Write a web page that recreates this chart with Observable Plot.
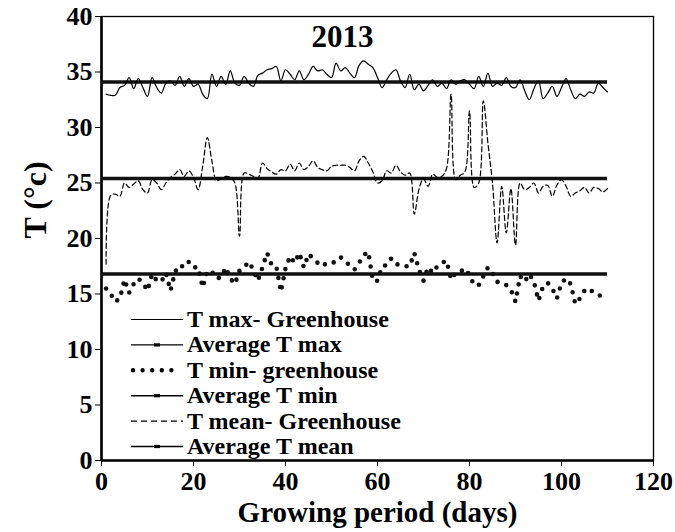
<!DOCTYPE html>
<html>
<head>
<meta charset="utf-8">
<script src="https://cdn.jsdelivr.net/npm/d3@7"></script>
<script src="https://cdn.jsdelivr.net/npm/@observablehq/plot@0.6"></script>
<style>
  body { margin: 0; background: #fff; }
  #chart svg { font-family: "Liberation Serif", "Times New Roman", serif; font-weight: bold; }
  #chart svg text { fill: #000; font-weight: bold; }
</style>
</head>
<body>
<div id="chart"></div>
<script>
// Growing-period days (1..110)
const days = d3.range(1, 111);

// Daily maximum temperature in the greenhouse (°C)
const tMax = [
  33.0, 32.9, 32.9, 33.6, 33.8, 34.5, 33.5, 34.4, 33.6, 32.8,
  34.5, 33.6, 33.1, 34.0, 34.2, 33.8, 34.6, 33.7, 34.4, 33.7,
  33.9, 33.0, 32.6, 34.8, 33.7, 34.6, 33.9, 35.1, 34.0, 33.8,
  34.6, 34.0, 33.7, 34.7, 34.9, 35.2, 35.3, 35.5, 34.2, 35.2,
  34.8, 34.3, 35.1, 34.3, 34.8, 35.5, 35.1, 35.2, 34.8, 34.5,
  35.8, 35.1, 35.4, 34.9, 34.5, 35.6, 36.0, 35.7, 35.4, 34.5,
  33.6, 34.3, 34.9, 35.2, 34.2, 33.6, 34.8, 33.4, 33.9, 33.3,
  33.8, 34.3, 33.7, 34.0, 33.5, 34.3, 33.9, 34.2, 34.3, 33.9,
  33.5, 34.6, 33.7, 34.9, 33.7, 34.0, 33.8, 34.5, 33.7, 33.6,
  34.3, 33.3, 32.5, 33.5, 34.2, 32.6, 33.1, 33.7, 32.8, 33.6,
  34.4, 33.4, 32.6, 33.0, 32.8, 33.2, 33.1, 34.0, 33.6, 33.2
];

// Daily minimum temperature in the greenhouse (°C)
const tMin = [
  15.5, 15.0, 14.3, 14.6, 16.3, 15.1, 15.9, 16.4, 16.0, 15.3,
  16.8, 16.2, 16.1, 16.9, 15.3, 17.0, 17.6, 17.4, 17.9, 17.4,
  17.4, 15.6, 17.1, 17.0, 16.4, 16.5, 17.4, 16.4, 15.9, 17.1,
  17.4, 17.9, 17.2, 16.2, 17.4, 18.7, 17.6, 17.5, 15.2, 17.3,
  18.4, 17.8, 18.7, 17.4, 18.6, 18.2, 17.8, 17.5, 17.8, 17.8,
  17.9, 18.3, 18.0, 17.5, 17.2, 17.8, 18.5, 18.8, 16.2, 16.2,
  17.5, 17.6, 18.2, 17.7, 17.6, 17.5, 17.5, 18.7, 17.2, 16.2,
  17.4, 16.9, 17.5, 17.8, 18.0, 16.3, 16.9, 17.0, 17.3, 16.7,
  15.8, 15.8, 16.6, 17.4, 16.9, 16.1, 16.0, 15.8, 15.4, 14.3,
  16.6, 16.1, 16.8, 16.1, 14.4, 15.7, 16.0, 15.5, 14.6, 16.0,
  16.4, 15.9, 14.1, 14.6, 15.3, 15.5, 15.1, 14.9, 14.8, 14.8
];

// Daily mean temperature in the greenhouse (°C)
const tMean = [
  17.7, 23.9, 24.0, 23.8, 25.0, 24.6, 24.9, 25.2, 24.4, 24.1,
  25.3, 25.0, 24.4, 25.0, 25.5, 25.8, 26.2, 25.6, 26.1, 25.5,
  24.4, 26.5, 29.1, 27.0, 25.2, 25.4, 25.6, 25.5, 25.0, 20.2,
  25.9, 25.8, 25.6, 25.4, 26.8, 26.3, 26.0, 25.8, 26.2, 26.1,
  26.7, 26.1, 26.8, 26.2, 26.5, 27.0, 26.4, 26.2, 26.1, 26.5,
  26.6, 26.6, 26.6, 26.4, 26.1, 27.0, 27.4, 26.8, 26.0, 25.0,
  25.2, 26.1, 25.9, 26.6, 26.0, 25.7, 25.9, 22.2, 24.4, 25.4,
  24.7, 25.8, 25.5, 25.6, 26.3, 33.0, 25.3, 25.7, 26.0, 31.5,
  24.6, 25.0, 32.4, 28.6, 25.0, 19.6, 24.7, 20.5, 24.5, 19.4,
  25.0, 24.4, 24.6, 25.0, 24.1, 24.7, 24.8, 23.8, 24.8, 25.3,
  24.7, 23.8, 24.1, 24.3, 24.6, 24.1, 24.6, 24.5, 24.2, 24.5
];

// Season averages (°C)
const avgTMax = 34.1;
const avgTMin = 16.8;
const avgTMean = 25.4;
const avgSpan = [0, 110];

const xTicks = [0, 20, 40, 60, 80, 100, 120];
const yTicks = [0, 5, 10, 15, 20, 25, 30, 35, 40];

const legendLabels = [
  "T max- Greenhouse", "Average T max", "T min- greenhouse",
  "Average T min", "T mean- Greenhouse", "Average T mean"
];
const legendKinds = ["solid", "avg", "dotted", "avg", "dashed", "avg"];

const series = (vals) => days.map((d, i) => ({day: d, t: vals[i]}));
const averages = [avgTMax, avgTMean, avgTMin];
const bold = {fontSize: 26, fontWeight: "bold", fontFamily: "Liberation Serif"};

const chart = Plot.plot({
  width: 675,
  height: 532,
  marginLeft: 101,
  marginRight: 22,
  marginTop: 16,
  marginBottom: 72,
  style: {fontFamily: "Liberation Serif, Times New Roman, serif", fontSize: "25px", fontWeight: "bold", color: "#000", background: "#fff"},
  // tick marks come from the scale axes; their labels are drawn as text marks below
  x: {domain: [0, 120], ticks: xTicks, tickSize: 6, tickFormat: () => "", label: null},
  y: {domain: [0, 40], ticks: yTicks, tickSize: 6, tickFormat: () => "", label: null},
  marks: [
    Plot.frame({stroke: "#000", strokeWidth: 1.3}),
    Plot.ruleX([0], {stroke: "#000", strokeWidth: 2.6}),
    Plot.ruleY([0], {stroke: "#000", strokeWidth: 2.6}),
    // tick labels
    Plot.text(xTicks, {x: (d) => d, frameAnchor: "bottom", lineAnchor: "middle", dy: 21, ...bold}),
    Plot.text(yTicks, {y: (d) => d, frameAnchor: "left", textAnchor: "end", dx: -9, ...bold}),
    // season averages
    Plot.ruleY(averages, {x1: avgSpan[0], x2: avgSpan[1], stroke: "#111", strokeWidth: 3.6}),
    // daily series
    Plot.line(series(tMax), {x: "day", y: "t", curve: "catmull-rom", stroke: "#000", strokeWidth: 1.2}),
    Plot.line(series(tMean), {x: "day", y: "t", curve: "catmull-rom", stroke: "#000", strokeWidth: 1.2, strokeDasharray: "5,3"}),
    Plot.line(series(tMin), {x: "day", y: "t", stroke: "#111", strokeWidth: 4.6, strokeDasharray: "0,9.3", strokeLinecap: "round"}),
    // title and axis labels
    Plot.text(["2013"], {frameAnchor: "top", lineAnchor: "middle", dx: -35, dy: 21, fontSize: 31, fontWeight: "bold"}),
    Plot.text(["Growing period (days)"], {frameAnchor: "bottom", lineAnchor: "middle", dy: 52, fontSize: 29, fontWeight: "bold"}),
    Plot.text(["T (°c)"], {frameAnchor: "left", dx: -66, rotate: -90, fontSize: 32, fontWeight: "bold"})
  ]
});

// Legend drawn inside the plotting area, lower left
const svg = d3.select(chart);
const lg = svg.append("g").attr("class", "legend").attr("text-anchor", "start");
const lx0 = 131, lx1 = 183, ltx = 187, ly0 = 319.5, lstep = 25.4;
legendLabels.forEach((label, i) => {
  const y = ly0 + i * lstep;
  const kind = legendKinds[i];
  const line = lg.append("line")
    .attr("x1", lx0).attr("x2", lx1).attr("y1", y).attr("y2", y)
    .attr("stroke", "#000");
  if (kind === "solid") line.attr("stroke-width", 1.2);
  if (kind === "dashed") line.attr("stroke-width", 1.2).attr("stroke-dasharray", "6,4");
  if (kind === "dotted") line.attr("stroke-width", 4.4).attr("stroke-dasharray", "0,9.6").attr("stroke-linecap", "round").attr("x1", lx0 + 2).attr("x2", lx1 - 2);
  if (kind === "avg") {
    line.attr("stroke-width", 1.4);
    lg.append("rect").attr("x", (lx0 + lx1) / 2 - 3).attr("y", y - 1.6)
      .attr("width", 6).attr("height", 3.2).attr("fill", "#000");
  }
  lg.append("text").attr("x", ltx).attr("y", y + 7.5)
    .attr("text-anchor", "start")
    .style("font-size", "24px").style("font-weight", "bold").attr("fill", "#000")
    .text(label);
});

document.getElementById("chart").appendChild(chart);
</script>
</body>
</html>
